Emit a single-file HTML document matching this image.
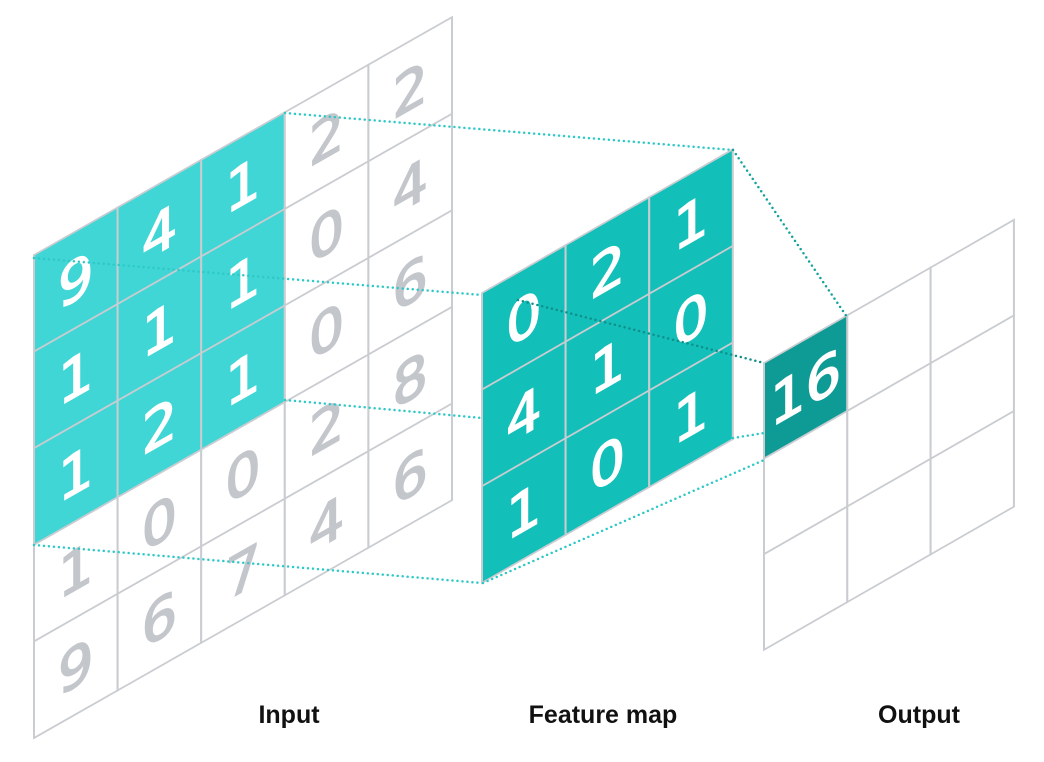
<!DOCTYPE html>
<html><head><meta charset="utf-8">
<style>
html,body{margin:0;padding:0;background:#fff;width:1044px;height:762px;overflow:hidden}
svg{display:block}
.lbl{font-family:"Liberation Sans",sans-serif;font-weight:bold;font-size:25px;fill:#111}
.num{font-family:"DejaVu Sans","Liberation Sans",sans-serif;font-size:56px;text-anchor:middle;dominant-baseline:central}
</style></head>
<body>
<svg id="chart" width="1044" height="762" viewBox="0 0 1044 762">
<g id="input-grid" transform="translate(34,255) skewY(-29.64)"></g>
<g id="dots"></g>
<g id="feature-grid" transform="translate(482,293) skewY(-29.8)"></g>
<g id="output-grid" transform="translate(764,363) skewY(-29.8)"></g>
<g id="dots2"></g>
<text class="lbl" x="289" y="723" text-anchor="middle">Input</text>
<text class="lbl" x="603" y="723" text-anchor="middle">Feature map</text>
<text class="lbl" x="919" y="723" text-anchor="middle">Output</text>
</svg>
<script>
const inputValues=[[9,4,1,2,2],[1,1,1,0,4],[1,2,1,0,6],[1,0,0,2,8],[9,6,7,4,6]];
const kernelValues=[[0,2,1],[4,1,0],[1,0,1]];
const outputValues=[[16,null,null],[null,null,null],[null,null,null]];
const NS="http://www.w3.org/2000/svg";
function mk(tag,attrs,parent){const e=document.createElementNS(NS,tag);for(const k in attrs)e.setAttribute(k,attrs[k]);parent.appendChild(e);return e;}
function grid(g,vals,cw,ch,fillFn,txtFn,stroke,name){
  vals.forEach((row,r)=>row.forEach((v,c)=>{
    const rect=mk('rect',{x:c*cw,y:r*ch,width:cw,height:ch,fill:fillFn(r,c),stroke:stroke(r,c),'stroke-width':2},g);
    
    
    if(v!==null&&v!==undefined){
      const col=txtFn(r,c);
      const t=mk('text',{x:c*cw+cw/2,y:r*ch+ch/2+2,class:'num',fill:col,stroke:col,'stroke-width':1.5},g);
      t.textContent=v;
      
      
    }
  }));
}
const ig=document.getElementById('input-grid');
grid(ig,inputValues,83.6,96.6,(r,c)=>(r<3&&c<3)?'#40d6d6':'#fff',(r,c)=>(r<3&&c<3)?'#fff':'#c3c6cb',()=>'#c9ccd0','input');
const fg=document.getElementById('feature-grid');
grid(fg,kernelValues,83.6,96.6,()=>'#12bfb9',()=>'#fff',()=>'#c9ccd0','feature');
const og=document.getElementById('output-grid');
grid(og,outputValues,83.3,95.6,(r,c)=>(r==0&&c==0)?'#0f9b95':'#fff',()=>'#fff',()=>'#c9ccd0','output');
function dl(g,x1,y1,x2,y2,col,name){const l=mk('line',{x1,y1,x2,y2,stroke:col,'stroke-width':2.5,'stroke-dasharray':'0 5','stroke-linecap':'round'},g);

}
const d=document.getElementById('dots');
dl(d,285,113,733,150,'#2ec9c6','connector');
dl(d,34,258,482,295,'#2ec9c6','connector');
dl(d,285,400,482,418,'#2ec9c6','connector');
dl(d,34,545,482,583,'#2ec9c6','connector');
const d2=document.getElementById('dots2');
dl(d2,733,150,847,317,'#12a39d','connector');
dl(d2,518,300,764,363,'#0f8f8a','connector');
dl(d2,733,438,764,433,'#2ec9c6','connector');
dl(d2,483,583,764,460,'#2ec9c6','connector');
</script>
</body></html>
